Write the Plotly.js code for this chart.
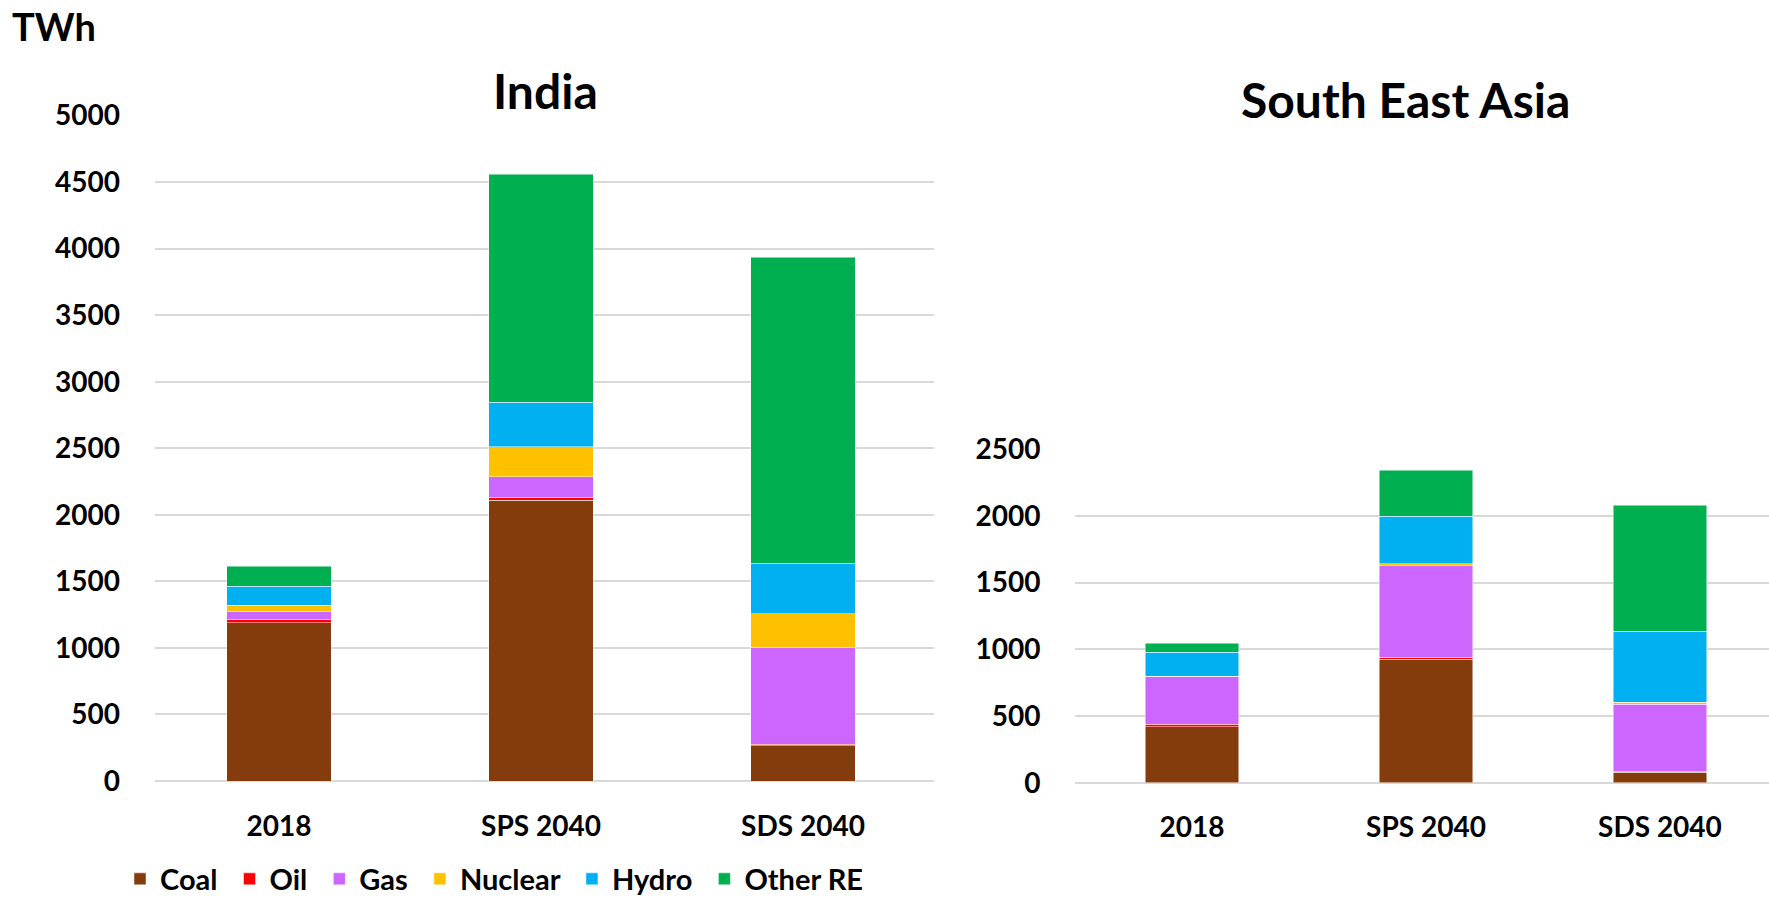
<!DOCTYPE html>
<html>
<head>
<meta charset="utf-8">
<script src="https://cdn.plot.ly/plotly-3.0.1.min.js"></script>
<style>
html,body{margin:0;padding:0;background:#fff;}
#chart{width:1769px;height:898px;}
</style>
</head>
<body>
<div id="chart"></div>
<script>
// Categories
const categories = ['2018', 'SPS 2040', 'SDS 2040'];
const seriesNames = ['Coal', 'Oil', 'Gas', 'Nuclear', 'Hydro', 'Other RE'];
const seriesColors = ['#843C0C', '#FF0000', '#CC66FF', '#FFC000', '#00B0F0', '#00B050'];

// India (TWh)
const indiaCoal    = [1190, 2110, 263];
const indiaOil     = [25, 20, 13];
const indiaGas     = [62, 156, 728];
const indiaNuclear = [43, 226, 253];
const indiaHydro   = [145, 333, 379];
const indiaOtherRE = [148, 1715, 2299];

// South East Asia (TWh)
const seaCoal    = [420, 927, 80];
const seaOil     = [18, 15, 4];
const seaGas     = [360, 685, 506];
const seaNuclear = [0, 13, 15];
const seaHydro   = [182, 359, 530];
const seaOtherRE = [65, 345, 944];

// Axis ticks
const indiaTicks = [0, 500, 1000, 1500, 2000, 2500, 3000, 3500, 4000, 4500, 5000];
const seaTicks = [0, 500, 1000, 1500, 2000, 2500];

const indiaSeries = [indiaCoal, indiaOil, indiaGas, indiaNuclear, indiaHydro, indiaOtherRE];
const seaSeries = [seaCoal, seaOil, seaGas, seaNuclear, seaHydro, seaOtherRE];

const FONT = 'Lato, "Open Sans", "DejaVu Sans", sans-serif';
const W = 1769, H = 898;
const PAD = '\u00a0';

const traces = [];
seriesNames.forEach((name, i) => {
  traces.push({
    type: 'bar', name: name + PAD, x: categories, y: indiaSeries[i],
    xaxis: 'x', yaxis: 'y',
    marker: {color: seriesColors[i], line: {color: 'rgba(255,255,255,0.6)', width: 0.8}},
    legendgroup: name, showlegend: true, hoverinfo: 'x+y+name'
  });
});
seriesNames.forEach((name, i) => {
  traces.push({
    type: 'bar', name: name, x: categories, y: seaSeries[i],
    xaxis: 'x2', yaxis: 'y2',
    marker: {color: seriesColors[i], line: {color: 'rgba(255,255,255,0.6)', width: 0.8}},
    legendgroup: name, showlegend: false, hoverinfo: 'x+y+name'
  });
});

const tickFont = {family: FONT, size: 28, color: '#000000', weight: 700};

const layout = {
  width: W, height: H,
  margin: {l: 0, r: 0, t: 0, b: 0, autoexpand: false},
  paper_bgcolor: '#ffffff', plot_bgcolor: '#ffffff',
  barmode: 'stack',
  bargap: 0.6,
  font: {family: FONT, color: '#000000'},
  showlegend: true,
  legend: {
    orientation: 'h', x: 120 / W, xanchor: 'left', y: (H - 879) / H, yanchor: 'middle',
    font: {family: FONT, size: 29, color: '#000000', weight: 700},
    traceorder: 'normal', bgcolor: 'rgba(0,0,0,0)', itemclick: false, itemdoubleclick: false
  },
  xaxis: {
    domain: [154.5 / W, 934 / W], anchor: 'y',
    type: 'category', range: [-0.475, 2.5],
    showline: false, showgrid: false, zeroline: false,
    ticks: 'outside', ticklen: 20, tickcolor: 'rgba(0,0,0,0)',
    tickfont: tickFont, fixedrange: true
  },
  yaxis: {
    domain: [(H - 781) / H, (H - 115.5) / H], anchor: 'x',
    range: [0, 5000], tickvals: indiaTicks, ticktext: indiaTicks.map(String),
    showgrid: true, gridcolor: '#D9D9D9', gridwidth: 2,
    zeroline: true, zerolinecolor: '#D9D9D9', zerolinewidth: 2,
    showline: false,
    ticks: 'outside', ticklen: 28, tickcolor: 'rgba(0,0,0,0)',
    tickfont: tickFont, fixedrange: true
  },
  xaxis2: {
    domain: [1075 / W, 1], anchor: 'y2',
    type: 'category', range: [-0.5, 2.466],
    showline: false, showgrid: false, zeroline: false,
    ticks: 'outside', ticklen: 20, tickcolor: 'rgba(0,0,0,0)',
    tickfont: tickFont, fixedrange: true
  },
  yaxis2: {
    domain: [(H - 782.7) / H, (H - 449.3) / H], anchor: 'x2',
    range: [0, 2500], tickvals: seaTicks, ticktext: seaTicks.map(String),
    showgrid: true, gridcolor: '#D9D9D9', gridwidth: 2,
    zeroline: true, zerolinecolor: '#D9D9D9', zerolinewidth: 2,
    showline: false,
    ticks: 'outside', ticklen: 28, tickcolor: 'rgba(0,0,0,0)',
    tickfont: tickFont, fixedrange: true
  },
  annotations: [
    {text: 'TWh', xref: 'paper', yref: 'paper', x: 10 / W, y: (H - 26) / H,
     xanchor: 'left', yanchor: 'middle', showarrow: false,
     font: {family: FONT, size: 38, color: '#000000', weight: 700}},
    {text: 'India', xref: 'paper', yref: 'paper', x: 545 / W, y: (H - 91) / H,
     xanchor: 'center', yanchor: 'middle', showarrow: false,
     font: {family: FONT, size: 48, color: '#000000', weight: 700}},
    {text: 'South East Asia', xref: 'paper', yref: 'paper', x: 1405 / W, y: (H - 99) / H,
     xanchor: 'center', yanchor: 'middle', showarrow: false,
     font: {family: FONT, size: 48, color: '#000000', weight: 700}}
  ]
};

Plotly.newPlot('chart', traces, layout, {displayModeBar: false, staticPlot: true});
</script>
</body>
</html>
